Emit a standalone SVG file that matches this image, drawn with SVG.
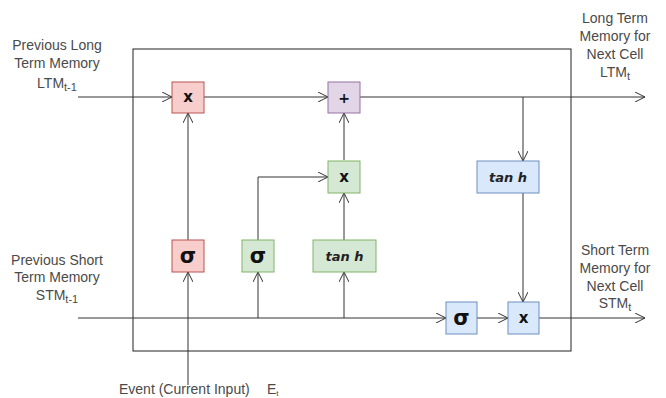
<svg xmlns="http://www.w3.org/2000/svg" width="666" height="398" viewBox="0 0 666 398">
<style>
.lbl{font-family:"Liberation Sans",Arial,sans-serif;font-size:14px;fill:#4a4a4a;text-anchor:middle}
.op{font-family:"DejaVu Sans","Liberation Sans",sans-serif;font-weight:bold;fill:#111;text-anchor:middle;dominant-baseline:central}
.th{font-family:"DejaVu Sans","Liberation Sans",sans-serif;font-weight:bold;font-style:italic;font-size:13px;fill:#222;text-anchor:middle;dominant-baseline:central}
.pink{fill:#f8cecc;stroke:#b85450}
.purple{fill:#e1d5e7;stroke:#9673a6}
.green{fill:#d5e8d4;stroke:#82b366}
.blue{fill:#dae8fc;stroke:#6c8ebf}
.ln{fill:none;stroke:#333;stroke-width:1}
</style>
<defs>
<marker id="open" viewBox="0 0 10 10" refX="10" refY="5" markerWidth="10" markerHeight="10" markerUnits="userSpaceOnUse" orient="auto">
<path d="M0,0 L10,5 L0,10" fill="none" stroke="#333" stroke-width="1"/>
</marker>
</defs>
<rect id="cell" x="133" y="49" width="438" height="302" fill="none" stroke="#222"/>
<g id="connectors" class="ln">
<path d="M78,97 H172" marker-end="url(#open)"/>
<path d="M204,97 H328" marker-end="url(#open)"/>
<path d="M360,97 H645" marker-end="url(#open)"/>
<path d="M523,97 V161" marker-end="url(#open)"/>
<path d="M523,193 V302" marker-end="url(#open)"/>
<path d="M78,318 H446" marker-end="url(#open)"/>
<path d="M477,318 H508" marker-end="url(#open)"/>
<path d="M539,318 H645" marker-end="url(#open)"/>
<path d="M188,385 V272" marker-end="url(#open)"/>
<path d="M188,240 V113" marker-end="url(#open)"/>
<path d="M258,318 V272" marker-end="url(#open)"/>
<path d="M258,240 V177 H328" marker-end="url(#open)"/>
<path d="M344,318 V272" marker-end="url(#open)"/>
<path d="M344,240 V193" marker-end="url(#open)"/>
<path d="M344,160 V113" marker-end="url(#open)"/>
</g>
<g id="ltm_mul"><rect class="pink" x="172" y="82" width="32" height="31"/><text class="op" x="188" y="97" font-size="15">x</text></g>
<g id="ltm_add"><rect class="purple" x="328" y="82" width="32" height="31"/><text class="op" x="344" y="97.5" font-size="14">+</text></g>
<g id="learn_mul"><rect class="green" x="328" y="161" width="32" height="32"/><text class="op" x="344" y="176.5" font-size="15">x</text></g>
<g id="forget_sig"><rect class="pink" x="172" y="240" width="32" height="32"/><text class="op" x="188" y="256" font-size="21">σ</text></g>
<g id="learn_sig"><rect class="green" x="242" y="240" width="32" height="32"/><text class="op" x="258" y="256" font-size="21">σ</text></g>
<g id="learn_tanh"><rect class="green" x="313" y="240" width="63" height="32"/><text class="th" x="344.5" y="256">tan h</text></g>
<g id="use_tanh"><rect class="blue" x="477" y="161" width="62" height="32"/><text class="th" x="508" y="177">tan h</text></g>
<g id="use_sig"><rect class="blue" x="446" y="302" width="31" height="32"/><text class="op" x="461.5" y="318" font-size="21">σ</text></g>
<g id="use_mul"><rect class="blue" x="508" y="302" width="31" height="32"/><text class="op" x="523.5" y="317.5" font-size="15">x</text></g>
<g id="labels">
<text class="lbl" x="57" y="50">Previous Long</text>
<text class="lbl" x="57" y="68">Term Memory</text>
<text class="lbl" x="57" y="88">LTM<tspan font-size="11" dy="3">t-1</tspan></text>
<text class="lbl" x="615" y="23">Long Term</text>
<text class="lbl" x="615" y="41">Memory for</text>
<text class="lbl" x="615" y="59">Next Cell</text>
<text class="lbl" x="615" y="77">LTM<tspan font-size="11" dy="3">t</tspan></text>
<text class="lbl" x="57" y="265">Previous Short</text>
<text class="lbl" x="57" y="282">Term Memory</text>
<text class="lbl" x="57" y="300">STM<tspan font-size="11" dy="3">t-1</tspan></text>
<text class="lbl" x="615" y="255">Short Term</text>
<text class="lbl" x="615" y="273">Memory for</text>
<text class="lbl" x="615" y="291">Next Cell</text>
<text class="lbl" x="615" y="308">STM<tspan font-size="11" dy="3">t</tspan></text>
<text class="lbl" x="119" y="394" style="text-anchor:start">Event (Current Input)</text>
<text class="lbl" x="267" y="394" style="text-anchor:start">E<tspan font-size="8" dy="2">t</tspan></text>
</g>
</svg>
